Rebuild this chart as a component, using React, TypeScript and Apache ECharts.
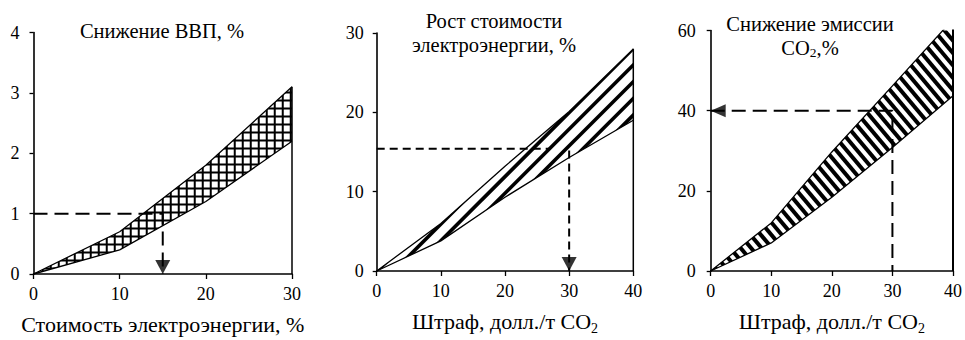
import React, { useEffect, useRef } from "react";
import * as echarts from "echarts";

const FONT = "Liberation Serif";

// Panel 1: GDP reduction vs electricity cost
const p1X = [0, 10, 20, 30];
const p1Upper = [0, 0.7, 1.8, 3.1];
const p1Lower = [0, 0.4, 1.2, 2.2];
const p1GuideX = [0, 15, 15];
const p1GuideY = [1, 1, 0];
const p1Arrow = [15, 0];

// Panel 2: electricity cost growth vs penalty
const p2X = [0, 10, 20, 30, 40];
const p2Upper = [0, 6, 13.2, 20.1, 28];
const p2Lower = [0, 3.8, 9.3, 14.3, 19];
const p2HGuideX = [0, 27];
const p2HGuideY = [15.4, 15.4];
const p2VGuideX = [30, 30];
const p2VGuideY = [15.2, 0];
const p2Arrow = [30, 0];

// Panel 3: CO2 emission reduction vs penalty
const p3X = [0, 10, 20, 30, 40];
const p3Upper = [0, 12, 29.7, 46.2, 62.8];
const p3Lower = [0, 7, 18.4, 30.8, 43.7];
const p3GuideX = [0, 30, 30];
const p3GuideY = [40, 40, 0];
const p3Arrow = [0, 40];

type Hatch = { angle: number; spacing: number; width: number }[];

const hatchGrid: Hatch = [
  { angle: 0, spacing: 8, width: 2 },
  { angle: 90, spacing: 8, width: 2 },
];
const hatchUp: Hatch = [{ angle: 45, spacing: 11.8, width: 3.6 }];
const hatchDown: Hatch = [{ angle: -50, spacing: 8, width: 4 }];

function hatchLines(pts: number[][], hatch: Hatch) {
  let x0 = Infinity, y0 = Infinity, x1 = -Infinity, y1 = -Infinity;
  pts.forEach((p) => {
    x0 = Math.min(x0, p[0]);
    y0 = Math.min(y0, p[1]);
    x1 = Math.max(x1, p[0]);
    y1 = Math.max(y1, p[1]);
  });
  const cx = (x0 + x1) / 2;
  const cy = (y0 + y1) / 2;
  const out: any[] = [];
  hatch.forEach((h) => {
    const a = (h.angle * Math.PI) / 180;
    const d = [Math.cos(a), -Math.sin(a)];
    const n = [-d[1], d[0]];
    const r = Math.hypot(x1 - x0, y1 - y0) / 2 + h.spacing;
    const N = Math.ceil(r / h.spacing);
    for (let k = -N; k <= N; k++) {
      const px = cx + n[0] * k * h.spacing;
      const py = cy + n[1] * k * h.spacing;
      out.push({
        type: "line",
        shape: { x1: px - d[0] * r, y1: py - d[1] * r, x2: px + d[0] * r, y2: py + d[1] * r },
        style: { stroke: "#000", lineWidth: h.width },
      });
    }
  });
  return out;
}

function band(idx: number, xs: number[], lower: number[], upper: number[], hatch: Hatch) {
  return {
    type: "custom",
    xAxisIndex: idx,
    yAxisIndex: idx,
    silent: true,
    z: 1,
    data: xs.map((x, i) => [x, lower[i], upper[i]]),
    encode: { x: 0, y: [1, 2] },
    renderItem: (params: any, api: any) => {
      if (params.dataIndex !== 0) return null;
      const pts: number[][] = [];
      for (let i = 0; i < xs.length; i++) pts.push(api.coord([xs[i], upper[i]]));
      for (let i = xs.length - 1; i >= 0; i--) pts.push(api.coord([xs[i], lower[i]]));
      const cs = params.coordSys;
      return {
        type: "group",
        clipPath: { type: "rect", shape: { x: cs.x, y: cs.y, width: cs.width, height: cs.height } },
        children: [
          {
            type: "group",
            clipPath: { type: "polygon", shape: { points: pts } },
            children: hatchLines(pts, hatch),
          },
        ],
      };
    },
  };
}

function line(idx: number, xs: number[], ys: number[], width: number, type: any = "solid") {
  return {
    type: "line",
    xAxisIndex: idx,
    yAxisIndex: idx,
    data: xs.map((x, i) => [x, ys[i]]),
    symbol: "none",
    silent: true,
    clip: true,
    z: 3,
    lineStyle: { color: "#000", width, type, cap: "butt" },
  };
}

function arrow(idx: number, pt: number[], rotate: number, size: number[], offset: number[]) {
  return {
    type: "scatter",
    xAxisIndex: idx,
    yAxisIndex: idx,
    data: [pt],
    symbol: "triangle",
    symbolSize: size,
    symbolRotate: rotate,
    symbolOffset: offset,
    itemStyle: { color: "#000" },
    silent: true,
    clip: false,
    z: 5,
  };
}

const nameRich = {
  n: { fontFamily: FONT, fontSize: 22, color: "#000", lineHeight: 28 },
  s: { fontFamily: FONT, fontSize: 14, color: "#000", verticalAlign: "bottom" },
};

function xAx(idx: number, max: number, name: string) {
  return {
    type: "value",
    gridIndex: idx,
    min: 0,
    max,
    interval: 10,
    axisLine: { show: true, onZero: false, lineStyle: { color: "#000", width: 1.6 } },
    axisTick: { show: true, length: 5, lineStyle: { color: "#000", width: 1.3 } },
    axisLabel: { color: "#000", fontFamily: FONT, fontSize: 18, margin: 11 },
    splitLine: { show: false },
    name,
    nameLocation: "middle",
    nameGap: 36,
    nameTextStyle: { fontFamily: FONT, fontSize: 22, color: "#000", rich: nameRich },
  };
}

function yAx(idx: number, max: number, interval: number, margin: number) {
  return {
    type: "value",
    gridIndex: idx,
    min: 0,
    max,
    interval,
    axisLine: { show: true, onZero: false, lineStyle: { color: "#000", width: 1.6 } },
    axisTick: { show: true, length: 4, lineStyle: { color: "#000", width: 1.3 } },
    axisLabel: { color: "#000", fontFamily: FONT, fontSize: 18, margin },
    splitLine: { show: false },
  };
}

const titleRich = {
  t: { fontFamily: FONT, fontSize: 20.5, color: "#000", lineHeight: 24 },
  s: { fontFamily: FONT, fontSize: 13.5, color: "#000", verticalAlign: "bottom" },
};

export default function App() {
  const ref = useRef<HTMLDivElement>(null);
  useEffect(() => {
    if (!ref.current) return;
    const chart = echarts.init(ref.current, null, { renderer: "svg" });
    const last1 = p1X.length - 1;
    const last2 = p2X.length - 1;
    const last3 = p3X.length - 1;
    chart.setOption({
      animation: false,
      backgroundColor: "#fff",
      textStyle: { fontFamily: FONT },
      grid: [
        { left: 33.5, top: 32.5, width: 258.5, height: 243.5 },
        { left: 376.7, top: 33, width: 256.6, height: 243 },
        { left: 710.7, top: 30.5, width: 251, height: 245.5 },
      ],
      xAxis: [
        xAx(0, 30, "{n|Стоимость электроэнергии, %}"),
        xAx(1, 40, "{n|Штраф, долл./т CO}{s|2}"),
        xAx(2, 40, "{n|Штраф, долл./т CO}{s|2}"),
      ],
      yAxis: [yAx(0, 4, 1, 14), yAx(1, 30, 10, 13), yAx(2, 60, 20, 15)],
      graphic: [
        {
          type: "text",
          x: 162,
          y: 31,
          style: { text: "{t|Снижение ВВП, %}", rich: titleRich, align: "center", verticalAlign: "middle" },
        },
        {
          type: "text",
          x: 494,
          y: 33,
          style: {
            text: "{t|Рост стоимости}\n{t|электроэнергии, %}",
            rich: titleRich,
            align: "center",
            verticalAlign: "middle",
          },
        },
        {
          type: "text",
          x: 810,
          y: 35.5,
          style: {
            text: "{t|Снижение эмиссии}\n{t|CO}{s|2}{t|,%}",
            rich: titleRich,
            align: "center",
            verticalAlign: "middle",
          },
        },
      ],
      series: [
        band(0, p1X, p1Lower, p1Upper, hatchGrid),
        line(0, p1X, p1Upper, 1.3),
        line(0, p1X, p1Lower, 1.3),
        line(0, [p1X[last1], p1X[last1]], [0, p1Upper[last1]], 1.5),
        line(0, p1GuideX, p1GuideY, 2, [14, 7]),
        arrow(0, p1Arrow, 180, [15, 14], [0, -7]),

        band(1, p2X, p2Lower, p2Upper, hatchUp),
        line(1, p2X, p2Upper, 1.3),
        line(1, p2X, p2Lower, 1.3),
        line(1, [p2X[last2], p2X[last2]], [0, p2Upper[last2]], 1.5),
        line(1, p2HGuideX, p2HGuideY, 2, [8, 5]),
        line(1, p2VGuideX, p2VGuideY, 2, [8, 5]),
        arrow(1, p2Arrow, 180, [15, 14], [0, -7]),

        band(2, p3X, p3Lower, p3Upper, hatchDown),
        line(2, p3X, p3Upper, 1.3),
        line(2, p3X, p3Lower, 1.3),
        line(2, [p3X[last3], p3X[last3]], [0, p3Upper[last3]], 2),
        line(2, p3GuideX, p3GuideY, 2, [14, 7]),
        arrow(2, p3Arrow, 90, [13, 15], [7.5, 0]),
      ],
    });
    return () => chart.dispose();
  }, []);
  return (
    <div
      ref={ref}
      style={{ position: "absolute", left: 0, top: 0, width: 965, height: 340 }}
    />
  );
}
